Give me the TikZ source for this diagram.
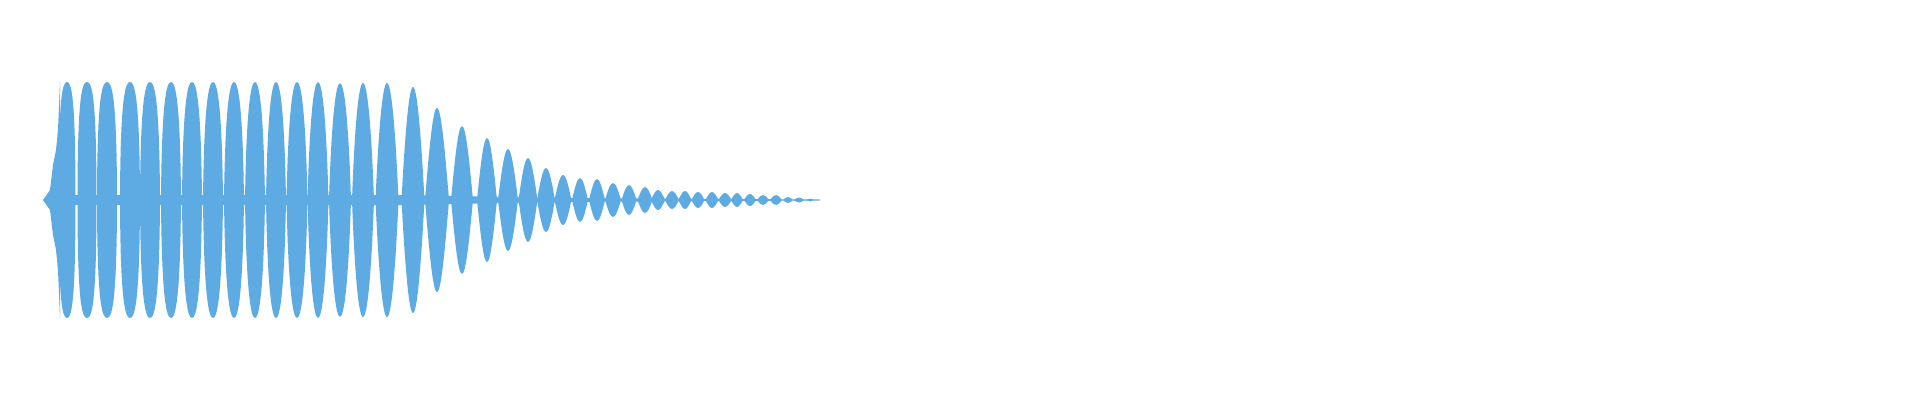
\documentclass[tikz,border=0pt]{standalone}
\definecolor{wave}{RGB}{93,171,226}
\begin{document}
\begin{tikzpicture}[x=0.05cm,y=-0.05cm]
\useasboundingbox (0,0) rectangle (1920,400);
% centre band
\fill[wave] (43,200) -- (48,195) -- (405,195) -- (560,198) -- (820,199.5) -- (820,200.5) -- (560,202) -- (405,205) -- (48,205) -- cycle;
% onset ramp
\fill[wave] (43,200) -- (50,190) -- (53,165) -- (56,150) -- (58,130) -- (60,82) -- (60,318) -- (58,270) -- (56,250) -- (53,235) -- (50,210) -- cycle;
\foreach \c/\A/\h/\t in {67/118/8.5/0, 87/118/9.5/0, 107/118/10/0.05, 130/118/10/0.1, 150/118/10/0.15, 171/118/10/0.2, 192/118/10/0.25, 213/118/10/0.3, 234/118/10/0.35, 255/118/10/0.4, 276/118/10/0.45, 297/118/10.5/0.5, 318/118/10.5/0.6, 340/117/11/0.65, 363/117/11/0.72, 387/117/11.5/0.8, 413/113/11.5/0.9, 437/92/12/1, 462/74/11/1, 487/62/10/1, 508/51/10/1, 528/42/9.5/1, 546/32/9/1, 563/25/8.5/1, 580/22/8/1, 597/21/8/1, 613/17/8/1, 629/15/7.5/1, 645/13/7.5/1, 658/10/7/1, 672/9/7/1, 685/9/6.5/1, 698/8/6.5/1, 712/8/6.5/1, 725/7/6.5/1, 737/7/6/1, 750/6/6/1, 763/5/6/1, 776/5/6/1, 788/3/5/1, 799/2.5/5/1, 810/1.5/4/1}
{
  \pgfmathsetmacro{\ax}{\h*(1-0.33*\t)}
  \pgfmathsetmacro{\ay}{\A*(0.9-0.38*\t)}
  \pgfmathsetmacro{\bx}{\h*(0.5-0.14*\t)}
  \fill[wave] (\c-\h,200)
    .. controls (\c-\ax,200-\ay) and (\c-\bx,200-\A) .. (\c,200-\A)
    .. controls (\c+\bx,200-\A) and (\c+\ax,200-\ay) .. (\c+\h,200)
    .. controls (\c+\ax,200+\ay) and (\c+\bx,200+\A) .. (\c,200+\A)
    .. controls (\c-\bx,200+\A) and (\c-\ax,200+\ay) .. (\c-\h,200) -- cycle;
}
\end{tikzpicture}
\end{document}
